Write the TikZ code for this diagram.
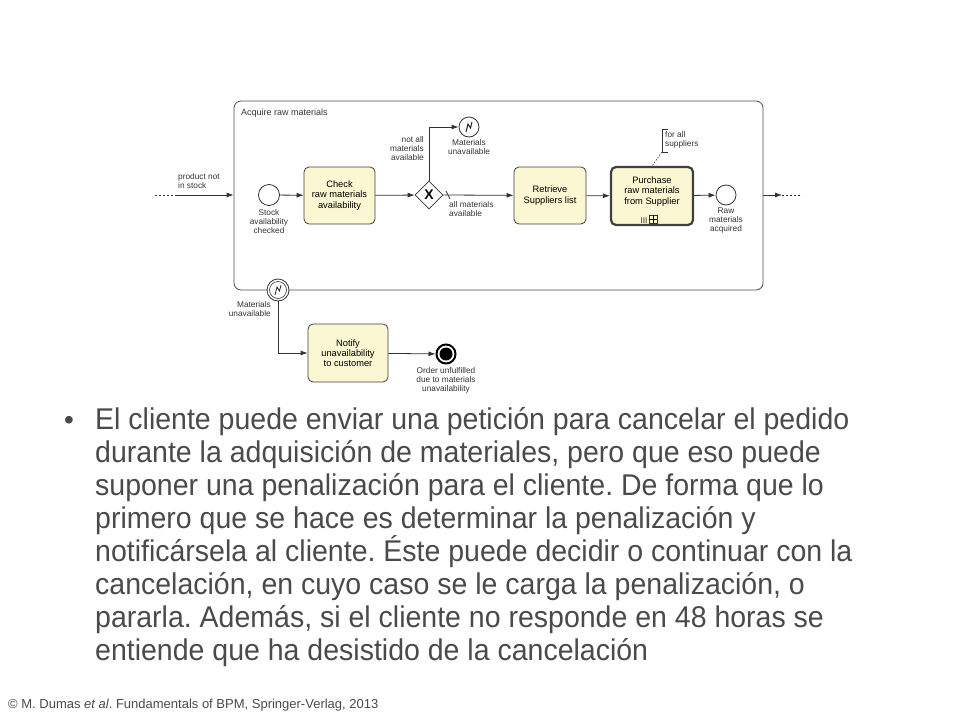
\documentclass[tikz,border=0pt]{standalone}
\usepackage{fontspec}
\setmainfont{Liberation Sans}
\newfontfamily\narrowf[FakeStretch=0.95]{Liberation Sans}
\usetikzlibrary{arrows.meta,shapes.geometric}
\definecolor{taskfill}{HTML}{FAF7D2}
\definecolor{txt}{HTML}{4A4A4A}
\frenchspacing
\begin{document}
\begin{tikzpicture}[x=1pt,y=-1pt,
  lbl/.style={font=\fontsize{8.3}{9}\selectfont,align=center,text=black!80,inner sep=1pt},
  task/.style={draw=black!75,fill=taskfill,rounded corners=5pt,line width=0.8pt,font=\fontsize{9.3}{10.3}\selectfont,align=center,minimum width=72pt,minimum height=57pt,inner sep=1pt},
  ev/.style={circle,draw=black!80,fill=white,line width=0.8pt,minimum size=21pt,inner sep=0pt},
  flow/.style={draw=black!80,line width=0.8pt,-{Latex[length=7pt,width=5pt]}},
  bodyt/.style={anchor=base west,inner sep=0pt,text=txt,font=\narrowf\fontsize{30}{33}\selectfont}]
\useasboundingbox (0,0) rectangle (960,720);
% subprocess
\node[draw=black!70,rounded corners=7pt,line width=0.8pt,minimum width=529pt,minimum height=189pt,inner sep=0pt] (sub) at (498.5,195.5) {};
\node[lbl,anchor=north west,font=\fontsize{9}{10}\selectfont] (title) at (240,108) {Acquire raw materials};
\coordinate (inA) at (155,195);
\coordinate (inB) at (175,195);
\draw[black!80,line width=0.8pt,dash pattern=on 2pt off 2pt] (inA) -- (inB);
\draw[flow] (inB) -- (sub.west |- inB);
\node[lbl,anchor=south west,align=left] (pns) at (177,190) {product not\\in stock};
% start
\node[ev] (start) at (269,195) {};
\node[lbl,anchor=north] (startl) at (269,208) {Stock\\availability\\checked};
\node[task,minimum width=71pt] (check) at (339.5,195.5) {Check\\raw materials\\availability};
\node[diamond,draw=black!80,fill=white,line width=0.8pt,minimum size=28pt,inner sep=0pt,font=\bfseries\fontsize{14}{14}\selectfont] (gw) at (429,195) {X};
\node[ev,minimum size=20pt] (mu) at (469,127) {};
\draw[line width=1pt,black!85] ([shift={(-3,5)}]mu.center) -- ([shift={(-1,-3)}]mu.center) -- ([shift={(1.5,1)}]mu.center) -- ([shift={(3,-5)}]mu.center);
\node[lbl,anchor=north] (mul) at (469,138) {Materials\\unavailable};
\node[lbl,anchor=south east,align=right] (nall) at (425,162) {not all\\materials\\available};
\node[task] (ret) at (550,195.5) {Retrieve\\Suppliers list};
\node[lbl,anchor=north west,align=left] (allm) at (448,200) {all materials\\available};
\node[task,line width=2.2pt,minimum width=82pt,minimum height=58pt] (pur) at (652,196) {Purchase\\raw materials\\from Supplier\\[1pt]\rule{0pt}{6pt}};
\node[lbl,anchor=base] (mi) at (644,223) {III};
\node[draw=black!80,minimum size=8pt,inner sep=0pt,line width=0.6pt] (plus) at (653,219) {};
\draw[line width=0.6pt] (plus.north) -- (plus.south) (plus.west) -- (plus.east);
\node[ev,minimum size=20pt] (raw) at (726,195) {};
\node[lbl,anchor=north] (rawl) at (726,207) {Raw\\materials\\acquired};
% annotation
\node[lbl,anchor=west,align=left] (ann) at (664,140) {for all\\suppliers};
\draw[black!80,line width=0.7pt] (668,129) -- (662,129) -- (662,152) -- (668,152);
\coordinate (annb) at (662,152);
\draw[black!70,line width=0.7pt,dash pattern=on 1.5pt off 1.5pt] (annb) -- (pur.north);
% flows
\draw[flow] (start) -- (check);
\draw[flow] (check) -- (gw);
\draw[flow] (gw.north) |- (mu);
\draw[flow] (gw.east) -- (ret);
\draw[black!80,line width=0.7pt] (446,191) -- (450,199);
\draw[flow] (ret) -- (pur);
\draw[flow] (pur) -- (raw);
\coordinate (outB) at (782,195);
\coordinate (outC) at (802,195);
\draw[flow] (sub.east |- outB) -- (outB);
\draw[black!80,line width=0.8pt,dash pattern=on 2pt off 2pt] (outB) -- (outC);
% boundary event
\node[circle,draw=black!80,fill=white,line width=0.8pt,minimum size=22pt,inner sep=0pt] (be) at (278,290) {};
\node[circle,draw=black!80,line width=0.6pt,minimum size=17pt,inner sep=0pt] (bei) at (278,290) {};
\draw[line width=0.8pt,black!85] ([shift={(-3,5)}]be.center) -- ([shift={(-1,-3)}]be.center) -- ([shift={(1.5,1)}]be.center) -- ([shift={(3,-5)}]be.center);
\node[lbl,anchor=north east,align=right] (bel) at (272,300) {Materials\\unavailable};
\node[task,minimum width=80pt,minimum height=58pt] (notify) at (348,353) {Notify\\unavailability\\to customer};
\draw[flow] (be.south) |- (notify.west);
\node[circle,draw=black,line width=2pt,fill=white,minimum size=19pt,inner sep=0pt] (endev) at (446,354) {};
\fill[black] (endev.center) circle (6.5pt);
\draw[flow] (notify) -- (endev);
\node[lbl,anchor=north] (endl) at (446,366) {Order unfulfilled\\due to materials\\unavailability};
% text
\node[anchor=base west,inner sep=0pt,text=txt,font=\fontsize{28}{33}\selectfont] (bul) at (64,429) {•};
\node[bodyt] (l1) at (95,429) {El cliente puede enviar una petición para cancelar el pedido};
\node[bodyt] (l2) at (95,462) {durante la adquisición de materiales, pero que eso puede};
\node[bodyt] (l3) at (95,495) {suponer una penalización para el cliente. De forma que lo};
\node[bodyt] (l4) at (95,528) {primero que se hace es determinar la penalización y};
\node[bodyt] (l5) at (95,561) {notificársela al cliente. Éste puede decidir o continuar con la};
\node[bodyt] (l6) at (95,594) {cancelación, en cuyo caso se le carga la penalización, o};
\node[bodyt] (l7) at (95,627) {pararla. Además, si el cliente no responde en 48 horas se};
\node[bodyt] (l8) at (95,660) {entiende que ha desistido de la cancelación};
\node[anchor=base west,inner sep=0pt,text=txt,font=\fontsize{13}{14}\selectfont] (foot) at (8,708) {© M. Dumas \textit{et al}. Fundamentals of BPM, Springer-Verlag, 2013};
\end{tikzpicture}
\end{document}
